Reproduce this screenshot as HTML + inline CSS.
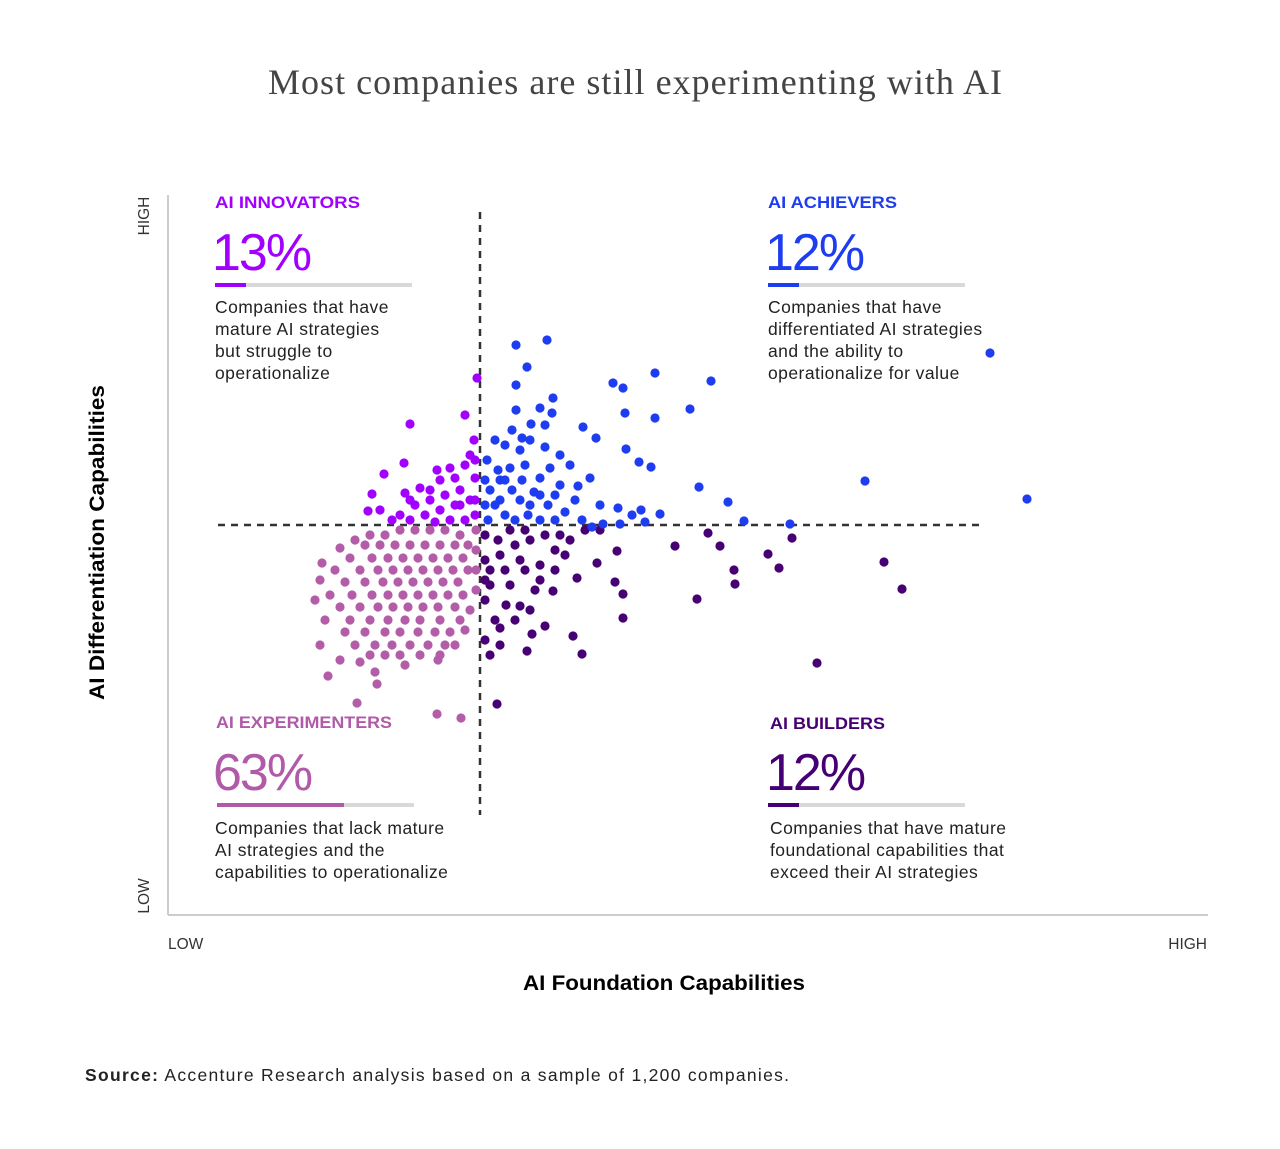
<!DOCTYPE html>
<html><head><meta charset="utf-8"><style>
html,body{margin:0;padding:0;background:#fff}
svg text{font-family:"Liberation Sans",sans-serif}
.desc{font-size:17.5px;letter-spacing:0.45px;fill:#222}
</style></head><body>
<svg id="chart" width="1280" height="1144" viewBox="0 0 1280 1144" xmlns="http://www.w3.org/2000/svg">
<text x="268" y="94" textLength="734" lengthAdjust="spacing" style="font-family:'Liberation Serif',serif" font-size="36" fill="#444">Most companies are still experimenting with AI</text>
<line x1="168" y1="195" x2="168" y2="915" stroke="#ccc" stroke-width="2"/>
<line x1="168" y1="915" x2="1208" y2="915" stroke="#ccc" stroke-width="2"/>
<line x1="480" y1="212" x2="480" y2="815" stroke="#333" stroke-width="2.5" stroke-dasharray="7,6"/>
<line x1="218" y1="525" x2="985" y2="525" stroke="#333" stroke-width="2.5" stroke-dasharray="7,6"/>
<text transform="translate(149,216) rotate(-90)" text-anchor="middle" font-size="15.5" fill="#333">HIGH</text>
<text transform="translate(149,896) rotate(-90)" text-anchor="middle" font-size="15.5" fill="#333">LOW</text>
<text x="168" y="949" font-size="15.5" fill="#333">LOW</text>
<text x="1207" y="949" text-anchor="end" font-size="15.5" fill="#333">HIGH</text>
<text x="523" y="990" textLength="282" lengthAdjust="spacingAndGlyphs" font-size="21" font-weight="bold" fill="#000">AI Foundation Capabilities</text>
<text transform="translate(104,700) rotate(-90)" textLength="315" lengthAdjust="spacingAndGlyphs" font-size="21" font-weight="bold" fill="#000">AI Differentiation Capabilities</text>
<g id="dots"></g>
<g>
<text x="215" y="208" textLength="145" lengthAdjust="spacingAndGlyphs" font-size="17" font-weight="bold" fill="#a100ff">AI INNOVATORS</text>
<text x="212" y="270" font-size="52" font-weight="300" fill="#a100ff" letter-spacing="-2">13%</text>
<rect x="215" y="283" width="197" height="4" fill="#d9d9d9"/><rect x="215" y="283" width="31" height="4" fill="#a100ff"/>
<text class="desc" x="215" y="313"><tspan x="215">Companies that have</tspan><tspan x="215" dy="22">mature AI strategies</tspan><tspan x="215" dy="22">but struggle to</tspan><tspan x="215" dy="22">operationalize</tspan></text>
</g>
<g>
<text x="768" y="208" textLength="129" lengthAdjust="spacingAndGlyphs" font-size="17" font-weight="bold" fill="#1e3cf0">AI ACHIEVERS</text>
<text x="765" y="270" font-size="52" font-weight="300" fill="#1e3cf0" letter-spacing="-2">12%</text>
<rect x="768" y="283" width="197" height="4" fill="#d9d9d9"/><rect x="768" y="283" width="31" height="4" fill="#1e3cf0"/>
<text class="desc" x="768" y="313"><tspan x="768">Companies that have</tspan><tspan x="768" dy="22">differentiated AI strategies</tspan><tspan x="768" dy="22">and the ability to</tspan><tspan x="768" dy="22">operationalize for value</tspan></text>
</g>
<g>
<text x="216" y="728" textLength="176" lengthAdjust="spacingAndGlyphs" font-size="17" font-weight="bold" fill="#b05aa8">AI EXPERIMENTERS</text>
<text x="213" y="790" font-size="52" font-weight="300" fill="#b05aa8" letter-spacing="-2">63%</text>
<rect x="217" y="803" width="197" height="4" fill="#d9d9d9"/><rect x="217" y="803" width="127" height="4" fill="#b05aa8"/>
<text class="desc" x="215" y="834"><tspan x="215">Companies that lack mature</tspan><tspan x="215" dy="22">AI strategies and the</tspan><tspan x="215" dy="22">capabilities to operationalize</tspan></text>
</g>
<g>
<text x="770" y="729" textLength="115" lengthAdjust="spacingAndGlyphs" font-size="17" font-weight="bold" fill="#460073">AI BUILDERS</text>
<text x="766" y="790" font-size="52" font-weight="300" fill="#460073" letter-spacing="-2">12%</text>
<rect x="768" y="803" width="197" height="4" fill="#d9d9d9"/><rect x="768" y="803" width="31" height="4" fill="#460073"/>
<text class="desc" x="770" y="834"><tspan x="770">Companies that have mature</tspan><tspan x="770" dy="22">foundational capabilities that</tspan><tspan x="770" dy="22">exceed their AI strategies</tspan></text>
</g>
<text x="85" y="1081" textLength="704" lengthAdjust="spacing" font-size="17.5" fill="#222"><tspan font-weight="bold">Source:</tspan> Accenture Research analysis based on a sample of 1,200 companies.</text>
</svg>
<script>
// data units: x 0..104 (foundation), y 0..72 (differentiation)
const achieversX=[34.8,37.9,35.9,34.8,44.5,45.5,48.7,54.3,82.2,52.2,45.7,48.7,34.8,37.2,38.5,38.4,36.3,41.5,42.8,45.8,47.1,48.3,53.1,56.0,57.6,62.2,69.7,85.9,32.7,33.7,35.2,36.2,37.7,39.2,40.2,41.0,42.2,43.2,45.0,46.4,47.3,49.2,43.5,33.0,34.2,35.4,36.6,38.0,38.7,39.7,40.7,32.2,32.7,33.7,34.7,36.0,37.2,38.7,32.0,33.2,35.2,37.2,38.2,31.9,41.4,42.4,45.2,47.7,31.7,33.2,34.4,35.7,37.2,39.2,31.7,34.4,35.4,37.7,33.7,36.2];
const achieversY=[57.0,57.5,54.8,53.0,53.2,52.7,54.2,53.4,56.2,50.6,50.2,49.7,50.5,50.7,51.7,50.2,49.1,48.8,47.7,46.6,45.3,44.8,42.8,41.3,39.4,39.1,43.4,41.6,47.5,47.0,46.5,47.5,46.8,46.0,45.0,42.9,43.7,41.0,40.7,40.0,40.5,40.1,39.1,44.5,44.7,43.5,42.3,41.0,42.0,40.3,41.5,42.5,41.0,40.0,39.5,40.0,39.5,39.5,39.5,41.5,41.5,43.7,44.7,45.5,39.5,38.8,39.1,39.3,43.5,43.5,42.5,45.0,42.0,43.0,41.0,48.5,47.7,49.0,43.5,41.0];
const innovatorsX=[30.9,29.7,24.2,23.6,21.6,20.4,20.0,21.2,23.7,25.2,26.9,28.2,29.7,30.6,30.2,30.7,29.2,27.7,26.2,24.7,23.2,25.7,27.2,28.7,30.2,29.7,28.2,26.7,24.2,22.4,30.7,27.2,28.7,24.2,30.7,29.2,26.2,30.7];
const innovatorsY=[53.7,50.0,49.1,45.2,44.1,42.1,40.4,40.5,42.2,42.7,44.5,44.7,45.0,47.5,46.0,43.7,42.5,42.0,41.5,41.0,40.0,40.0,40.5,41.0,41.5,39.5,39.5,39.3,39.5,39.5,40.0,43.5,43.7,41.5,41.5,41.0,42.5,45.5];
const buildersX=[32.9,64.9,73.4,71.6,62.4,60.0,61.1,56.6,56.7,55.2,54.0,50.7,52.9,44.9,42.9,40.9,44.7,45.5,45.5,40.5,41.4,37.7,35.9,36.4,38.5,36.7,35.2,33.8,32.7,31.7,33.2,31.7,32.2,34.2,35.7,37.2,38.7,40.2,41.7,31.7,33.2,34.7,36.2,37.7,39.2,31.7,33.0,34.2,35.7,32.2,33.7,35.2,37.2,38.7,31.7,34.7,36.2,32.2,33.2,43.2,39.7];
const buildersY=[21.1,25.2,32.6,35.3,37.7,36.1,34.7,34.5,33.1,36.9,38.2,36.9,31.6,36.4,35.2,33.7,33.3,32.1,29.7,27.9,26.1,28.9,26.4,28.1,32.4,32.5,30.9,31.0,29.5,27.5,28.7,31.5,33.0,33.0,34.5,35.0,36.5,37.5,38.5,35.5,36.0,37.0,37.5,38.0,38.0,38.0,37.5,38.5,38.5,34.5,34.5,35.5,33.5,34.5,33.5,29.5,30.5,26.0,27.0,38.5,36.0];
const experimentersX=[26.9,29.3,18.9,16.0,20.9,20.7,19.2,17.2,15.2,14.7,15.2,15.4,17.2,18.7,20.2,23.7,27.0,28.7,29.7,30.2,30.8,30.8,30.8,30.8,29.2,27.7,26.2,24.7,23.2,21.7,
19.7,21.2,22.7,24.2,25.7,27.2,28.7,30.0,
18.2,20.4,22.0,23.5,25.0,26.5,28.0,29.5,
16.7,19.2,21.0,22.5,24.0,25.5,27.0,28.5,30.0,
17.7,19.7,21.5,23.0,24.5,26.0,27.5,29.0,
16.2,18.4,20.4,22.0,23.5,25.0,26.5,28.0,29.5,
17.2,19.2,21.0,22.5,24.0,25.5,27.0,28.7,
15.7,18.2,20.2,22.0,23.7,25.2,27.2,29.2,
17.7,19.7,21.7,23.2,25.0,26.7,28.2,
18.7,20.7,22.4,24.2,26.0,27.7,
20.2,21.7,23.2,25.2,27.2];
const experimentersY=[20.1,19.7,21.2,23.9,23.1,24.3,25.3,25.5,27.0,31.5,33.5,35.2,36.7,37.5,38.0,25.0,25.5,27.0,28.5,30.5,32.5,34.5,36.5,38.5,38.0,38.5,38.5,38.5,38.5,38.0,
37.0,37.0,37.0,37.0,37.0,37.0,37.0,37.0,
35.7,35.7,35.7,35.7,35.7,35.7,35.7,35.7,
34.5,34.5,34.5,34.5,34.5,34.5,34.5,34.5,34.5,
33.3,33.3,33.3,33.3,33.3,33.3,33.3,33.3,
32.0,32.0,32.0,32.0,32.0,32.0,32.0,32.0,32.0,
30.8,30.8,30.8,30.8,30.8,30.8,30.8,30.8,
29.5,29.5,29.5,29.5,29.5,29.5,29.5,29.5,
28.3,28.3,28.3,28.3,28.3,28.3,28.3,
27.0,27.0,27.0,27.0,27.0,27.0,
26.0,26.0,26.0,26.0,26.0];

const xScale=v=>168+v*10;
const yScale=v=>915-v*10;
const g=document.getElementById('dots');
function drawSeries(xs,ys,color,name){
  for(let i=0;i<xs.length;i++){
    const c=document.createElementNS('http://www.w3.org/2000/svg','circle');
    c.setAttribute('cx',xScale(xs[i]));
    c.setAttribute('cy',yScale(ys[i]));
    c.setAttribute('r',4.6);
    c.setAttribute('fill',color);
    
    
    g.appendChild(c);
  }
}
drawSeries(experimentersX,experimentersY,'#b35ca8','experimenter-point');
drawSeries(buildersX,buildersY,'#460073','builder-point');
drawSeries(innovatorsX,innovatorsY,'#a100ff','innovator-point');
drawSeries(achieversX,achieversY,'#1e3cf0','achiever-point');
</script>
</body></html>
